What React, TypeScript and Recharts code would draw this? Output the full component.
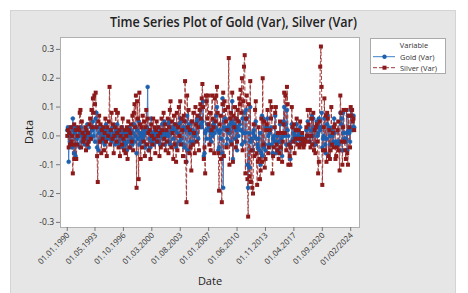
import React from "react";
import { LineChart, Line, XAxis, YAxis } from "recharts";

// monthly variation, in percent, Jan 1990 .. Jul 2024
const goldPct = [
  2, 3, -9, 1, -2, 0, 3, -4, 6, 2, -6, 1,
  -7, 3, -1, -3, 2, 0, -4, 1, 3, -2, 0, -1,
  1, -3, 2, -1, 0, 4, -2, -4, 1, 0, 3, -1,
  2, 5, 0, 3, -2, 6, 8, -4, 3, -5, 1, -2,
  2, -1, 3, -2, 0, 1, -3, 2, 4, -1, 0, 2,
  -1, 1, 0, 2, -2, 3, -1, 0, 1, -3, 2, 0,
  4, -2, 1, -3, 0, 2, -1, 3, -4, 1, -2, 0,
  -3, 2, -5, 1, -2, 0, 3, -4, 2, -1, -3, 1,
  4, -2, 0, 3, -6, 2, -1, 5, -3, 1, 0, -2,
  1, -1, 0, 2, -4, -3, 1, 3, 17, -5, 2, -1,
  -4, 6, -2, 1, 0, -3, 2, -1, 1, -2, 0, 3,
  -2, 1, -3, 2, 0, 4, -1, 1, 5, -3, 0, 2,
  1, 4, 0, -2, 5, -3, 1, 2, 3, -1, 2, 4,
  2, -4, -3, 1, 3, 4, -2, 6, -1, 5, 2, -3,
  3, -4, 5, 2, -9, 7, -5, 3, 4, 1, -2, 5,
  -3, 2, 1, -2, 0, 4, 1, 5, 6, -1, 7, 3,
  9, 4, 3, 5, 12, -7, -6, 1, 2, -1, 4, 2,
  3, 2, -1, 1, -2, 2, 0, 4, 5, 1, 3, 7,
  10, 2, -5, -4, 1, 2, -1, -6, 13, -18, 3, 5,
  6, 2, -3, -1, 3, 1, 2, 4, -2, 5, 12, -8,
  3, 4, -1, 6, 2, -5, 3, 0, 5, 4, 2, 2,
  -3, 6, 1, 8, -2, 1, 9, 6, -10, -18, 1, -11,
  10, -2, -1, -5, 1, 2, 0, 4, 5, -1, -3, -4,
  -1, -5, 1, -10, -6, 7, -7, 6, -4, -3, -5, 3,
  3, 6, 0, -3, 1, 2, 3, -3, -6, -1, 0, -2,
  7, -6, -2, 0, 1, -5, -2, 4, -2, -1, -7, 0,
  5, 10, 0, 4, -3, 9, 2, 0, -3, -3, -8, -2,
  4, 3, -1, 1, 0, -2, 2, 4, 0, -1, 0, 1,
  3, -2, 0, 0, -1, -3, -2, -2, -1, 2, 0, 5,
  3, 0, -2, 0, 2, 7, 0, 6, -3, 3, -3, 3,
  5, 0, 1, 6, 3, 2, 3, 8, -4, -1, 0, 6,
  -3, -6, -1, 4, 7, -7, 3, 0, -3, 2, 0, 3,
  -2, 6, 1, -2, -3, -2, -3, -2, -3, -2, 8, 4,
  6, -5, 8, 1, -1, -2, -1, 1, -5, 7, 2, 1,
  -2, 9, 7, 2, 3, 7, 3,
];

const silverPct = [
  0, 2, -4, 1, -3, 3, -2, 0, -13, -3, 4, -8,
  2, -8, -3, 0, 3, 2, 8, 9, -4, 5, 1, -2,
  -1, 0, 3, -5, 2, -3, 1, -2, 4, 6, -1, 9,
  3, 13, 8, 14, 11, 15, 3, -7, -16, 5, 7, -2,
  4, -6, 2, -1, 3, -5, 1, 6, -2, -7, 3, 0,
  5, 17, -3, 2, 8, -1, 4, -6, 0, 3, 9, -2,
  1, 8, -4, 2, -7, 0, 3, -3, 6, -1, -5, 2,
  -6, 0, 3, -8, 5, 2, -4, 1, 4, -2, 7, -5,
  8, 11, 3, 14, -18, 12, 6, -15, 15, 4, -8, 3,
  -4, 7, -2, 5, -7, 3, 9, -3, 6, 1, -5, 2,
  -8, 4, 0, -3, 6, -1, 3, -6, 2, 5, -2, 0,
  3, -7, 1, -4, 6, 2, -3, 8, -1, 4, -5, 2,
  -2, 6, -6, 3, 9, 12, -4, 5, 1, -8, 7, -3,
  4, -9, 8, -5, 3, 10, 0, 12, -3, 6, 2, -7,
  7, 5, 19, -9, -23, 14, 3, 9, -6, 2, -4, -12,
  5, -3, 8, 1, -6, 10, 4, -2, 7, 3, -5, 9,
  11, 6, 13, 18, 10, -8, -4, -13, 14, 12, 6, 14,
  4, -3, 8, -5, 2, 14, 6, 3, -6, 13, 5, 14,
  17, 8, -6, -19, 4, 7, -8, -23, 11, 15, -7, 12,
  9, 5, -4, 2, 10, 27, -10, 6, 8, -3, 15, -9,
  7, 3, 10, -4, 6, -2, 9, 5, 13, 11, 16, 8,
  20, -5, 12, 24, 28, -13, 6, 14, -15, -28, 11, -14,
  19, -16, -5, -18, -20, 4, -7, 9, 12, -6, -17, -9,
  3, -8, -15, -12, 6, -9, 20, -3, 5, -11, -8, 2,
  4, 9, -6, -4, 2, 12, 6, 10, -13, -7, -4, 3,
  8, 10, -3, -5, 1, -8, -6, 5, -4, 1, -9, -2,
  4, 15, 1, 14, -5, 17, 11, -10, -3, -7, -10, -4,
  10, 3, -2, 4, -6, -1, 2, 6, -3, 2, -1, -4,
  5, -3, -1, 1, -2, -4, -3, -1, -2, 3, 0, 9,
  4, -2, 9, -4, 0, 6, -3, 8, -5, 2, -6, 3,
  4, -2, -13, -9, 5, 24, 31, 17, -17, -5, 3, 13,
  -5, 7, -9, 8, 6, -7, 2, -8, -5, 10, -3, 1,
  -4, 3, 4, -8, -7, -4, 2, 5, -5, -12, 14, 8,
  -2, -10, 3, 9, -2, -5, -8, 9, -6, -10, 7, 3,
  -4, 10, 7, 9, 5, 6, 2,
];

// tick positions are month offsets from Jan 1990
const xTickMonths = [0, 40, 81, 122, 163, 204, 245, 286, 327, 368, 409];
const xTickLabels = [
  "01.01.1990", "01.05.1993", "01.10.1996", "01.03.2000", "01.08.2003",
  "01.01.2007", "01.06.2010", "01.11.2013", "01.04.2017", "01.09.2020",
  "01/02/2024",
];
const yTicks = [-0.3, -0.2, -0.1, 0, 0.1, 0.2, 0.3];

const data = goldPct.map((g, i) => ({
  month: i,
  gold: g / 100,
  silver: silverPct[i] / 100,
}));

const GOLD = "#1c5fae";
const SILVER = "#8c1a1a";
const FONT = "'Open Sans', 'Noto Sans', sans-serif";

const XTick = (props: any) => {
  const { x, y, payload } = props;
  const idx = xTickMonths.indexOf(payload.value);
  return (
    <g transform={`translate(${x},${y})`}>
      <text
        textAnchor="end"
        transform="rotate(-45)"
        dy={4}
        fontSize={8}
        fill="#333"
        fontFamily={FONT}
      >
        {idx >= 0 ? xTickLabels[idx] : ""}
      </text>
    </g>
  );
};

const SquareDot = (props: any) => {
  const { cx, cy, index } = props;
  if (cx == null || cy == null) return null;
  return (
    <rect key={index} x={cx - 2} y={cy - 2} width={4} height={4} fill={SILVER} />
  );
};

export default function App() {
  return (
    <div
      style={{
        position: "absolute",
        left: 0,
        top: 0,
        width: 468,
        height: 293,
        background: "#fff",
        overflow: "hidden",
      }}
    >
      <div
        style={{
          position: "absolute",
          left: 10,
          top: 10,
          width: 446,
          height: 290,
          background: "#e6e6e6",
          border: "1px solid #d4d4d4",
          boxSizing: "border-box",
        }}
      />
      <div
        style={{
          position: "absolute",
          left: 60,
          top: 37,
          width: 300,
          height: 191,
          background: "#fff",
          border: "1px solid #b0b0b0",
          boxSizing: "border-box",
        }}
      />
      <div style={{ position: "absolute", left: 0, top: 0 }}>
        <LineChart
          width={468}
          height={293}
          data={data}
          margin={{ top: 37, right: 108, bottom: 0, left: 20 }}
        >
          <XAxis
            dataKey="month"
            type="number"
            domain={[-10.5, 422.4]}
            ticks={xTickMonths}
            tick={<XTick />}
            tickSize={4}
            tickLine={{ stroke: "#777" }}
            axisLine={false}
            height={66}
            interval={0}
          />
          <YAxis
            type="number"
            domain={[-0.316, 0.343]}
            ticks={yTicks}
            tickFormatter={(v: number) => v.toFixed(1)}
            tick={{ fontSize: 8.5, fill: "#333", fontFamily: FONT }}
            tickSize={4}
            tickLine={{ stroke: "#777" }}
            axisLine={false}
            width={40}
            interval={0}
          />
          <Line
            dataKey="gold"
            stroke="#3f7fc6"
            strokeWidth={1}
            dot={{ r: 2, fill: GOLD, stroke: GOLD, strokeWidth: 0.5 }}
            isAnimationActive={false}
          />
          <Line
            dataKey="silver"
            stroke="#a23a3a"
            strokeWidth={1}
            strokeDasharray="4 2"
            dot={<SquareDot />}
            isAnimationActive={false}
          />
        </LineChart>
      </div>
      <svg
        width={468}
        height={293}
        style={{ position: "absolute", left: 0, top: 0, pointerEvents: "none" }}
        fontFamily={FONT}
      >
        <text
          x={233.5}
          y={27}
          textAnchor="middle"
          fontSize={13.5}
          fontWeight={600}
          fill="#222"
          textLength={247}
          lengthAdjust="spacingAndGlyphs"
        >
          Time Series Plot of Gold (Var), Silver (Var)
        </text>
        <text
          x={0}
          y={0}
          transform="translate(33,132) rotate(-90)"
          textAnchor="middle"
          fontSize={11}
          fill="#222"
        >
          Data
        </text>
        <text x={210} y={285} textAnchor="middle" fontSize={11} fill="#222">
          Date
        </text>
        <rect x={370.5} y={38.5} width={75} height={35} fill="#fff" stroke="#aaa" />
        <text x={414} y={47.5} textAnchor="middle" fontSize={7.5} fill="#333">
          Variable
        </text>
        <line x1={373} y1={56.7} x2={395} y2={56.7} stroke="#3f7fc6" strokeWidth={1} />
        <circle cx={384.5} cy={56.7} r={2.2} fill={GOLD} />
        <text x={400} y={59.5} fontSize={7.5} fill="#333">
          Gold (Var)
        </text>
        <line
          x1={373}
          y1={67.7}
          x2={395}
          y2={67.7}
          stroke="#a23a3a"
          strokeWidth={1}
          strokeDasharray="4 2"
        />
        <rect x={382.5} y={65.7} width={4} height={4} fill={SILVER} />
        <text x={400} y={70.5} fontSize={7.5} fill="#333">
          Silver (Var)
        </text>
      </svg>
    </div>
  );
}
